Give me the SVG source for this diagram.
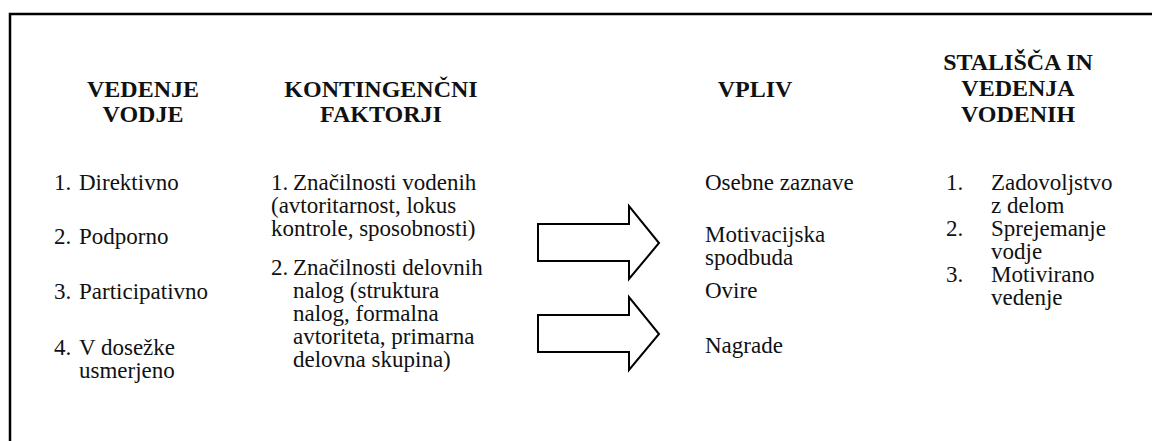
<svg xmlns="http://www.w3.org/2000/svg" width="1152" height="441" viewBox="0 0 1152 441">
<style>
text{font-family:"Liberation Serif",Tinos,"Times New Roman",Times,"Nimbus Roman","Nimbus Roman No9 L",FreeSerif,"DejaVu Serif",serif;fill:#111;}
.h{font-size:24px;font-weight:bold;text-anchor:middle;}
.b{font-size:23px;}
.frame{fill:none;stroke:#000;stroke-width:2.5;}
.arrow{fill:#fff;stroke:#000;stroke-width:2;stroke-linejoin:miter;}
</style>
<rect width="1152" height="441" fill="#fff"/>
<path class="frame" d="M10,441 V14 H1152"/>
<g id="col-vedenje-vodje">
<text class="h" x="143" y="97">VEDENJE</text>
<text class="h" x="143" y="122">VODJE</text>
<text class="b" x="54" y="190">1.<tspan x="79">Direktivno</tspan></text>
<text class="b" x="54" y="244">2.<tspan x="79">Podporno</tspan></text>
<text class="b" x="54" y="299">3.<tspan x="79">Participativno</tspan></text>
<text class="b" x="54" y="355">4.<tspan x="79">V dosežke</tspan></text>
<text class="b" x="79" y="378">usmerjeno</text>
</g>
<g id="col-kontingencni-faktorji">
<text class="h" x="381" y="97">KONTINGENČNI</text>
<text class="h" x="381" y="122">FAKTORJI</text>
<text class="b" x="271" y="190">1.<tspan x="293">Značilnosti vodenih</tspan></text>
<text class="b" x="271" y="213">(avtoritarnost, lokus</text>
<text class="b" x="271" y="236">kontrole, sposobnosti)</text>
<text class="b" x="271" y="275">2.<tspan x="293">Značilnosti delovnih</tspan></text>
<text class="b" x="293" y="298">nalog (struktura</text>
<text class="b" x="293" y="321">nalog, formalna</text>
<text class="b" x="293" y="344">avtoriteta, primarna</text>
<text class="b" x="293" y="367">delovna skupina)</text>
</g>
<g id="col-vpliv">
<text class="h" x="755" y="97">VPLIV</text>
<text class="b" x="705" y="190">Osebne zaznave</text>
<text class="b" x="705" y="242">Motivacijska</text>
<text class="b" x="705" y="265">spodbuda</text>
<text class="b" x="705" y="298">Ovire</text>
<text class="b" x="705" y="353">Nagrade</text>
</g>
<g id="col-stalisca">
<text class="h" x="1018" y="70">STALIŠČA IN</text>
<text class="h" x="1018" y="96">VEDENJA</text>
<text class="h" x="1018" y="122">VODENIH</text>
<text class="b" x="946" y="190">1.<tspan x="991">Zadovoljstvo</tspan></text>
<text class="b" x="991" y="213">z delom</text>
<text class="b" x="946" y="236">2.<tspan x="991">Sprejemanje</tspan></text>
<text class="b" x="991" y="259">vodje</text>
<text class="b" x="946" y="282">3.<tspan x="991">Motivirano</tspan></text>
<text class="b" x="991" y="305">vedenje</text>
</g>
<g id="connectors">
<path class="arrow" d="M538,224 H629 V206 L659,243 L629,279 V261 H538 Z"/>
<path class="arrow" d="M538,315 H629 V297 L659,334 L629,370 V352 H538 Z"/>
</g>
</svg>
